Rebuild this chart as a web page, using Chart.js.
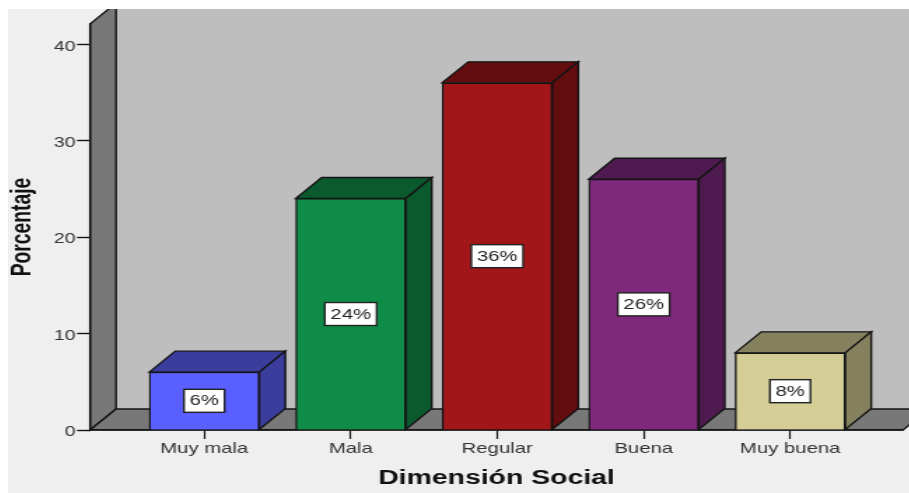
<html>
<head>
  <title>Dimensión Social</title>
  <script src="https://cdn.jsdelivr.net/npm/chart.js@4"></script>
  <style>
    html, body { margin: 0; background: #fff; overflow: hidden; }
    /* text and marks are wide on this chart, so the canvas is stretched sideways */
    #chart {
      position: absolute;
      left: 8px;
      top: 9px;
      background: #EFEFEF;
      transform-origin: 0 0;
      transform: scaleX(1.4);
    }
  </style>
</head>
<body>
  <canvas id="chart" width="644" height="484"></canvas>
  <script>
    var categories = ['Muy mala', 'Mala', 'Regular', 'Buena', 'Muy buena'];
    var percentages = [6, 24, 36, 26, 8];
    var frontColors = ['#5A5FFF', '#0F8C48', '#A21518', '#7F297D', '#D4CE96'];
    var shadeColors = ['#3A3D9C', '#0A5A2E', '#630D0F', '#4E1A4F', '#85815E'];

    var DEPTH_X = 18.6;
    var DEPTH_Y = 21;
    var LINE = '#141414';

    function poly(ctx, pts, fill) {
      ctx.beginPath();
      ctx.moveTo(pts[0][0], pts[0][1]);
      for (var i = 1; i < pts.length; i++) {
        ctx.lineTo(pts[i][0], pts[i][1]);
      }
      ctx.closePath();
      ctx.fillStyle = fill;
      ctx.fill();
      ctx.lineWidth = 1.4;
      ctx.strokeStyle = LINE;
      ctx.stroke();
    }

    // back wall, left wall and floor of the box
    var box3d = {
      id: 'box3d',
      beforeDraw: function (chart) {
        var ctx = chart.ctx, a = chart.chartArea;
        var bx = a.left + DEPTH_X, by = a.bottom - DEPTH_Y, ty = a.top - DEPTH_Y;
        ctx.save();
        ctx.fillStyle = '#BEBEBE';
        ctx.fillRect(bx, ty, a.right - a.left + 10, by - ty);
        poly(ctx, [[a.left, a.bottom], [bx, by], [bx, ty], [a.left, a.top]], '#787878');
        poly(ctx, [[a.left, a.bottom], [a.right, a.bottom], [a.right + DEPTH_X, by], [bx, by]], '#787878');
        ctx.restore();
      }
    };

    // top and side faces of every bar, taken from the bar elements
    var barFaces = {
      id: 'barFaces',
      beforeDatasetsDraw: function (chart) {
        var ctx = chart.ctx;
        ctx.save();
        chart.getDatasetMeta(0).data.forEach(function (bar, i) {
          var l = bar.x - bar.width / 2, r = bar.x + bar.width / 2;
          poly(ctx, [[l, bar.y], [l + DEPTH_X, bar.y - DEPTH_Y], [r + DEPTH_X, bar.y - DEPTH_Y], [r, bar.y]], shadeColors[i]);
          poly(ctx, [[r, bar.y], [r + DEPTH_X, bar.y - DEPTH_Y], [r + DEPTH_X, bar.base - DEPTH_Y], [r, bar.base]], shadeColors[i]);
        });
        ctx.restore();
      },
      afterDatasetsDraw: function (chart) {
        var ctx = chart.ctx;
        ctx.save();
        ctx.font = '14.5px "Liberation Sans"';
        ctx.textAlign = 'center';
        ctx.textBaseline = 'middle';
        chart.getDatasetMeta(0).data.forEach(function (bar, i) {
          var label = percentages[i] + '%';
          var w = ctx.measureText(label).width + 8;
          var y = (bar.y + bar.base) / 2;
          ctx.fillStyle = '#fff';
          ctx.fillRect(bar.x - w / 2, y - 11.5, w, 23);
          ctx.lineWidth = 1.4;
          ctx.strokeStyle = '#222';
          ctx.strokeRect(bar.x - w / 2, y - 11.5, w, 23);
          ctx.fillStyle = '#222';
          ctx.fillText(label, bar.x, y + 0.5);
        });
        ctx.restore();
      }
    };

    Chart.defaults.font.family = '"Liberation Sans", Arial, sans-serif';

    new Chart(document.getElementById('chart'), {
      type: 'bar',
      data: {
        datasets: [{
          data: categories.map(function (c, i) { return { x: i, y: percentages[i] }; }),
          backgroundColor: frontColors,
          borderColor: LINE,
          borderWidth: 1.4,
          barThickness: 78.6
        }]
      },
      plugins: [box3d, barFaces],
      options: {
        responsive: false,
        animation: false,
        layout: { padding: { top: 15, right: 4.7 } },
        plugins: { legend: { display: false }, tooltip: { enabled: false } },
        scales: {
          x: {
            type: 'linear',
            offset: false,
            min: -0.78,
            max: 4.77,
            afterFit: function (s) { s.height = 63; },
            afterBuildTicks: function (s) {
              s.ticks = s.ticks.filter(function (t) { return Number.isInteger(t.value); });
            },
            grid: { offset: false, drawOnChartArea: false, tickLength: 9, tickColor: LINE, tickWidth: 1.2 },
            border: { color: LINE, width: 1.4 },
            ticks: {
              stepSize: 1,
              autoSkip: false,
              maxRotation: 0,
              padding: 1,
              color: '#333',
              font: { size: 14.5 },
              callback: function (v) { return categories[v]; }
            },
            title: {
              display: true,
              text: 'Dimensión Social',
              color: '#111',
              font: { size: 20.3, weight: 'bold' },
              padding: { top: 8, bottom: 2 }
            }
          },
          y: {
            min: 0,
            max: 42.1,
            afterFit: function (s) { s.width = 58.6; },
            afterBuildTicks: function (s) {
              s.ticks = s.ticks.filter(function (t) { return t.value % 10 === 0; });
            },
            grid: { drawOnChartArea: false, tickLength: 9.3, tickColor: LINE, tickWidth: 1.4 },
            border: { color: LINE, width: 1.4 },
            ticks: {
              stepSize: 10,
              padding: 1,
              color: '#333',
              // empty first line with a tight line height nudges the number below its tick
              font: { size: 14, lineHeight: 0.35 },
              callback: function (v) { return ['', String(v)]; }
            },
            title: {
              display: true,
              text: 'Porcentaje',
              color: '#111',
              font: { size: 19.3, weight: 'bold' },
              padding: { top: -0.6, bottom: 0 }
            }
          }
        }
      }
    });
  </script>
</body>
</html>
